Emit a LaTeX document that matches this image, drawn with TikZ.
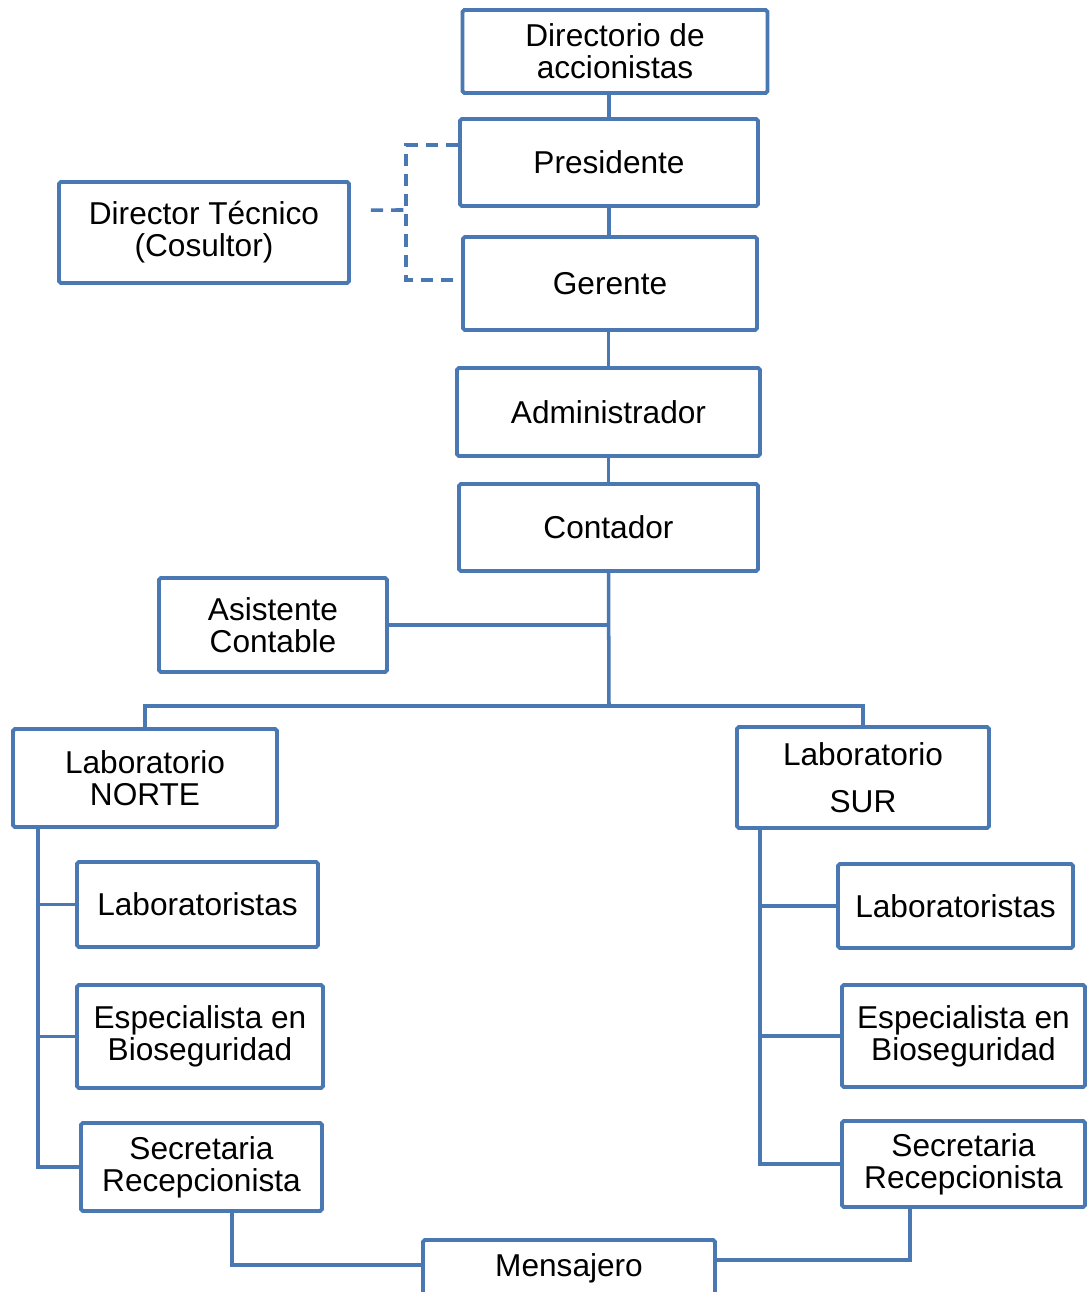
\documentclass[tikz,border=0pt]{standalone}
\usepackage{fontspec}
\setmainfont{Liberation Sans}
\usetikzlibrary{positioning}
\definecolor{orgblue}{RGB}{74,120,178}
\tikzset{
    box/.style = {draw=orgblue, line width=2.2pt, fill=white, align=center,
        inner sep=0pt, rounded corners=1pt,
        font=\fontsize{18pt}{18.2pt}\selectfont},
    link/.style = {draw=orgblue, line width=2pt},
    advice/.style = {draw=orgblue, line width=2pt, dash pattern=on 7pt off 4.5pt}
}

\begin{document}
\begin{tikzpicture}[x=0.02cm, y=-0.02cm]
        \useasboundingbox (0, 0) rectangle (1088, 1292);

        % cuerpo directivo
        \node[box, minimum width=6.10cm, minimum height=1.66cm] (dir) at (615, 51.5) {Directorio de\\accionistas};
        \node[box, minimum width=5.96cm, minimum height=1.74cm] (pres) at (609, 162.5) {Presidente};
        \node[box, minimum width=5.88cm, minimum height=1.86cm] (ger) at (610, 283.5) {Gerente};
        \node[box, minimum width=5.80cm, minimum height=2.02cm] (tec) at (204, 232.5) {Director Técnico\\(Cosultor)};
        \node[box, minimum width=6.06cm, minimum height=1.76cm] (adm) at (608.5, 412) {Administrador};
        \node[box, minimum width=5.98cm, minimum height=1.74cm] (cont) at (608.5, 527.5) {Contador};
        \node[box, minimum width=4.56cm, minimum height=1.88cm] (asis) at (273, 625) {Asistente\\Contable};

        % laboratorios
        \node[box, minimum width=5.28cm, minimum height=1.96cm] (norte) at (145, 778) {Laboratorio\\NORTE};
        \node[box, minimum width=5.04cm, minimum height=2.02cm] (sur) at (863, 777.5) {Laboratorio\\[0.3cm]SUR};

        \node[box, minimum width=4.82cm, minimum height=1.70cm] (labn) at (197.5, 904.5) {Laboratoristas};
        \node[box, minimum width=4.92cm, minimum height=2.06cm] (espn) at (200, 1036.5) {Especialista en\\Bioseguridad};
        \node[box, minimum width=4.82cm, minimum height=1.76cm] (secn) at (201.5, 1167) {Secretaria\\Recepcionista};

        \node[box, minimum width=4.70cm, minimum height=1.68cm] (labs) at (955.5, 906) {Laboratoristas};
        \node[box, minimum width=4.86cm, minimum height=2.04cm] (esps) at (963.5, 1036) {Especialista en\\Bioseguridad};
        \node[box, minimum width=4.86cm, minimum height=1.72cm] (secs) at (963.5, 1164) {Secretaria\\Recepcionista};

        \node[box, minimum width=5.84cm, minimum height=1.12cm] (mens) at (569, 1268) {Mensajero};

        % linea de mando
        \draw[link] (pres.north) -- (pres.north |- dir.south);
        \draw[link] (pres.south) -- (pres.south |- ger.north);
        \draw[link] (adm.north) -- (adm.north |- ger.south);
        \draw[link] (adm.south) -- (adm.south |- cont.north);

        \coordinate (split) at (609, 706);
        \draw[link] (cont.south) -- (split);
        \draw[link] (asis.east) -- (asis.east -| cont.south);
        \draw[link] (norte.north) |- (split) -| (sur.north);

        % asesoria
        \coordinate (tie) at (406, 210);
        \draw[advice] ([shift={(0.4cm,0.45cm)}]tec.east) -- (tie);
        \draw[advice] ([yshift=0.35cm]pres.west) -| (tie) |- ([yshift=0.07cm]ger.west);

        % ramas de laboratorio
        \coordinate (nspine) at ([xshift=0.54cm]norte.south west);
        \draw[link] (nspine) |- (secn.west);
        \draw[link] (labn.west) -- (labn.west -| nspine);
        \draw[link] (espn.west) -- (espn.west -| nspine);

        \coordinate (sspine) at ([xshift=0.5cm]sur.south west);
        \draw[link] (sspine) |- (secs.west);
        \draw[link] (labs.west) -- (labs.west -| sspine);
        \draw[link] (esps.west) -- (esps.west -| sspine);

        % mensajero
        \draw[link] ([xshift=0.61cm]secn.south) |- ([yshift=0.06cm]mens.west);
        \draw[link] ([xshift=-1.07cm]secs.south) |- ([yshift=0.16cm]mens.east);
    \end{tikzpicture}
\end{document}
